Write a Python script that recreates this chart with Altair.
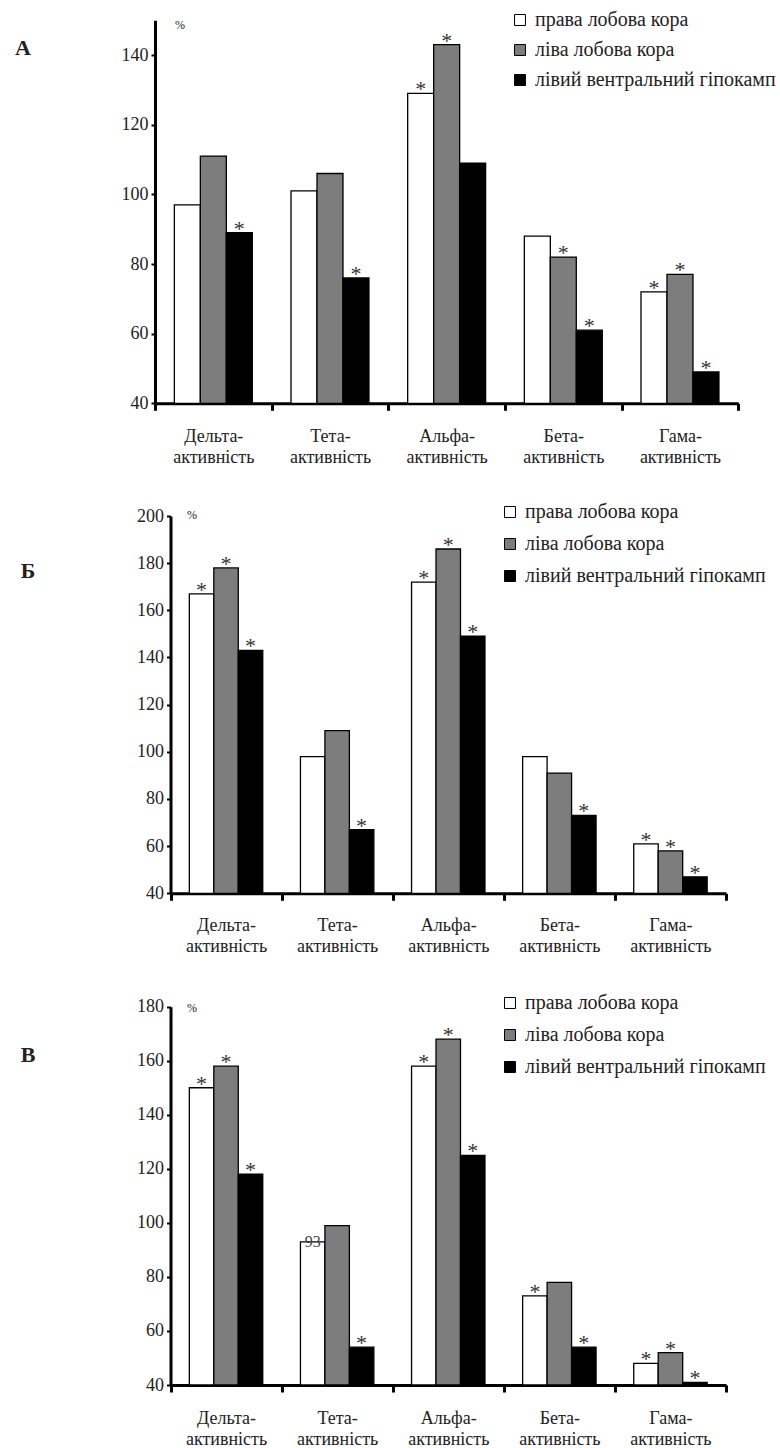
import altair as alt
import pandas as pd

FONT = "Liberation Serif"
INK = "#222222"
PAGE_W, PAGE_H = 780, 1448

categories = ["Дельта-активність", "Тета-активність", "Альфа-активність",
              "Бета-активність", "Гама-активність"]
series = ["права лобова кора", "ліва лобова кора", "лівий вентральний гіпокамп"]
fills = ["#ffffff", "#7d7d7d", "#000000"]

# % of baseline per rhythm: [right frontal cortex, left frontal cortex, left ventral hippocampus]
values_a = [[97, 111, 89], [101, 106, 76], [129, 143, 109], [88, 82, 61], [72, 77, 49]]
stars_a = [[0, 0, 1], [0, 0, 1], [1, 1, 0], [0, 1, 1], [1, 1, 1]]

values_b = [[167, 178, 143], [98, 109, 67], [172, 186, 149], [98, 91, 73], [61, 58, 47]]
stars_b = [[1, 1, 1], [0, 0, 1], [1, 1, 1], [0, 0, 1], [1, 1, 1]]

values_c = [[150, 158, 118], [93, 99, 54], [158, 168, 125], [73, 78, 54], [48, 52, 41]]
stars_c = [[1, 1, 1], [0, 0, 1], [1, 1, 1], [1, 0, 1], [1, 1, 1]]
notes_c = {("Тета-активність", "права лобова кора"): "93"}


def table(values, stars, notes=None):
    notes = notes or {}
    rows = []
    for i, cat in enumerate(categories):
        for j, s in enumerate(series):
            rows.append({"cat": cat, "series": s, "value": values[i][j],
                         "star": stars[i][j], "note": notes.get((cat, s), "")})
    return pd.DataFrame(rows)


def panel(df, ymax, x_px, y_px, off_pad, legend_xy, legend_row_pad, label_pad):
    """One bar panel placed on the shared page canvas.

    x_px: left/right pixel extent of the category axis,
    y_px: pixel of the 40 baseline and of the top of the value axis.
    """
    x_enc = alt.X(
        "cat:N", sort=categories,
        scale=alt.Scale(range=list(x_px), paddingInner=0, paddingOuter=0),
        axis=alt.Axis(
            orient="bottom", offset=y_px[0] - PAGE_H,
            title=None, labelAngle=0, tickBand="extent", tickSize=7, tickWidth=3,
            tickColor="black", domainWidth=3, domainColor="black",
            labelFont=FONT, labelFontSize=18, labelColor=INK,
            labelPadding=label_pad, labelLineHeight=21,
            labelExpr="datum.label ? [split(datum.label, '-')[0] + '-', "
                      "split(datum.label, '-')[1]] : ''",
        ),
    )
    off_enc = alt.XOffset("series:N", sort=series,
                          scale=alt.Scale(paddingInner=0, paddingOuter=off_pad))
    y_enc = alt.Y(
        "value:Q",
        scale=alt.Scale(domain=[40, ymax], range=list(y_px), zero=False, nice=False),
        axis=alt.Axis(
            orient="left", offset=-x_px[0],
            title=None, values=list(range(40, ymax + 1, 20)), grid=False,
            tickSize=4, tickWidth=2, tickColor="black", domainWidth=3,
            domainColor="black", labelFont=FONT, labelFontSize=18,
            labelColor=INK, labelPadding=3,
        ),
    )

    bars = alt.Chart(df).mark_bar(stroke="black", strokeWidth=1.3).encode(
        x=x_enc, xOffset=off_enc, y=y_enc, y2=alt.datum(40),
        fill=alt.Fill(
            "series:N", sort=series,
            scale=alt.Scale(domain=series, range=fills),
            legend=alt.Legend(
                title=None, orient="none", legendX=legend_xy[0], legendY=legend_xy[1],
                padding=0, symbolType="square", symbolSize=120,
                symbolStrokeColor="black", symbolStrokeWidth=1,
                labelFont=FONT, labelFontSize=20, labelColor=INK,
                labelOffset=5, labelLimit=0, rowPadding=legend_row_pad,
            ),
        ),
    )

    stars = alt.Chart(df).transform_filter("datum.star == 1").mark_text(
        text="*", font=FONT, fontSize=22, color="#333333", baseline="alphabetic", dy=3
    ).encode(x=x_enc, xOffset=off_enc, y=y_enc)

    layers = [bars, stars]
    if (df["note"] != "").any():
        note = alt.Chart(df).transform_filter("datum.note != ''").mark_text(
            font=FONT, fontSize=16, color="#444444", baseline="middle"
        ).encode(x=x_enc, xOffset=off_enc, y=y_enc, text="note:N")
        layers.append(note)
    return alt.layer(*layers)


# panel letters and "%" unit marks: (text, x, y, size, bold)
captions = pd.DataFrame({
    "text": ["А", "Б", "В", "%", "%", "%"],
    "x": [23, 28, 28, 180, 192, 192],
    "y": [48, 571, 1055, 25, 515, 1008],
    "size": [22, 22, 22, 12, 12, 12],
    "weight": ["bold", "bold", "bold", "normal", "normal", "normal"],
})

letters = alt.Chart(captions).transform_filter("datum.weight == 'bold'").mark_text(
    font=FONT, fontSize=22, fontWeight="bold", color=INK, align="center",
    baseline="middle",
).encode(
    x=alt.X("x:Q", scale=alt.Scale(domain=[0, PAGE_W], range=[0, PAGE_W]), axis=None),
    y=alt.Y("y:Q", scale=alt.Scale(domain=[0, PAGE_H], range=[0, PAGE_H]), axis=None),
    text="text:N",
)
units = alt.Chart(captions).transform_filter("datum.weight == 'normal'").mark_text(
    font=FONT, fontSize=12, color=INK, align="center", baseline="middle",
).encode(
    x=alt.X("x:Q", scale=alt.Scale(domain=[0, PAGE_W], range=[0, PAGE_W]), axis=None),
    y=alt.Y("y:Q", scale=alt.Scale(domain=[0, PAGE_H], range=[0, PAGE_H]), axis=None),
    text="text:N",
)

panel_a = panel(table(values_a, stars_a), 150, (155, 738.3), (403.3, 20.3), 0.745,
                legend_xy=(510, 10), legend_row_pad=10, label_pad=17)
panel_b = panel(table(values_b, stars_b), 200, (170.5, 726), (893.3, 516), 0.77,
                legend_xy=(500, 502), legend_row_pad=12, label_pad=16)
panel_c = panel(table(values_c, stars_c, notes_c), 180, (170.5, 726), (1385, 1006.7), 0.77,
                legend_xy=(500, 993), legend_row_pad=12, label_pad=17)

chart = (
    alt.layer(panel_a, panel_b, panel_c, letters, units)
    .resolve_scale(x="independent", y="independent", xOffset="independent",
                   fill="independent")
    .resolve_axis(x="independent", y="independent")
    .resolve_legend(fill="independent")
    .properties(width=PAGE_W, height=PAGE_H, padding=0,
                autosize=alt.AutoSizeParams(type="none"))
    .configure(background="white", font=FONT)
    .configure_view(strokeWidth=0)
    .configure_axis(labelFont=FONT)
    .configure_legend(labelFont=FONT)
    .configure_text(font=FONT)
)

chart.save("out.html", embed_options={"renderer": "svg", "actions": False})
